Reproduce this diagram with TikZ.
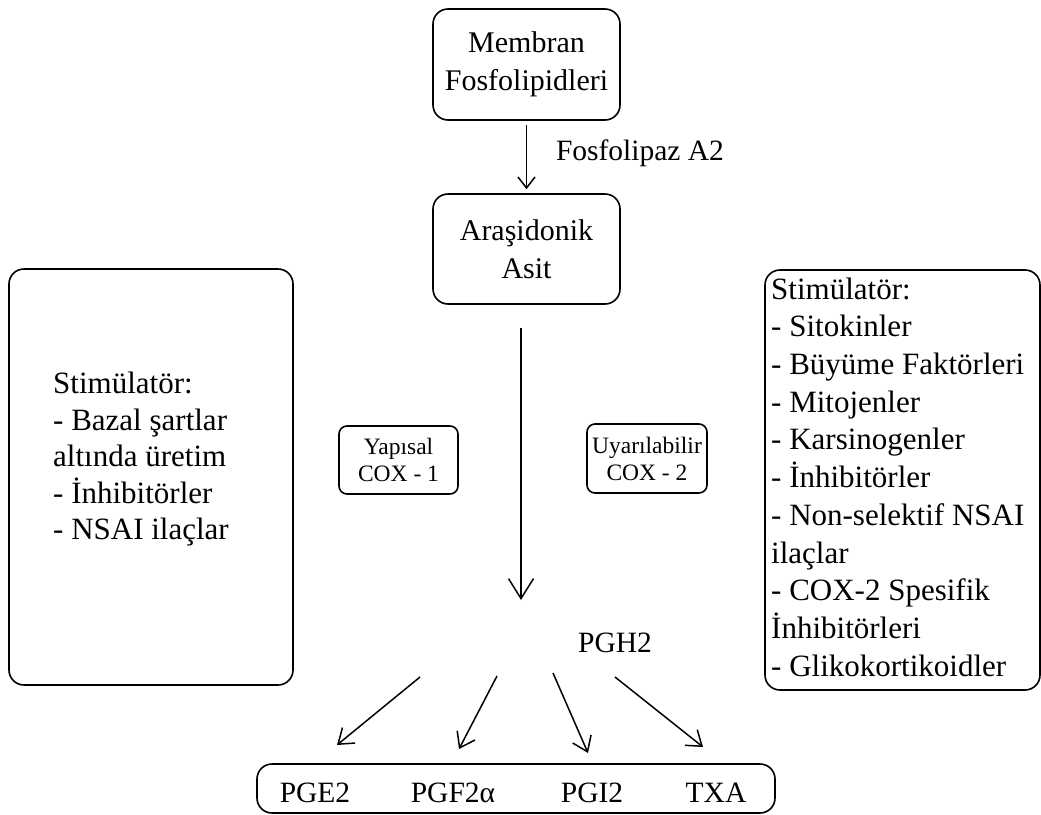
\documentclass[tikz,border=0pt]{standalone}
\usepackage{fontspec}
\setmainfont{Liberation Serif}
\usetikzlibrary{arrows.meta}
\tikzset{
  box/.style={draw, line width=1.6pt, rounded corners=15pt, inner sep=0pt, align=center},
  smallbox/.style={draw, line width=1.6pt, rounded corners=8pt, inner sep=0pt, align=center,
    font=\fontsize{23.5}{27}\selectfont},
  bigfont/.style={font=\fontsize{30}{38}\selectfont},
  listtxt/.style={align=left, inner sep=0pt, font=\fontsize{31}{36.5}\selectfont},
  arr/.style={line width=1.5pt, -{Straight Barb[length=14pt,width=20pt,line width=1.5pt]}},
  lbl/.style={inner sep=0pt, font=\fontsize{29.5}{36}\selectfont}
}
\begin{document}
\begin{tikzpicture}[x=1pt,y=-1pt]
\useasboundingbox (0,0) rectangle (1041,814);

% main chain
\node[box, bigfont, minimum width=187pt, minimum height=111pt] (mem) at (526.5,64.5)
  {Membran\\Fosfolipidleri};
\node[box, bigfont, minimum width=187pt, minimum height=110pt] (ara) at (526.5,249)
  {Araşidonik\\Asit};
\draw[line width=1.5pt, -{Straight Barb[length=11pt,width=17pt,line width=1.5pt]}]
  ([yshift=-4pt]mem.south) -- ([yshift=4pt]ara.north);
\node[lbl] (fla) at (640,153) {Fosfolipaz A2};

\coordinate (ls) at (521,328);
\coordinate (le) at (521,600);
\draw[line width=1.5pt, -{Straight Barb[length=20pt,width=25pt,line width=1.5pt]}] (ls) -- (le);

% side boxes
\node[box, minimum width=284pt, minimum height=416pt] (lbox) at (151,477) {};
\node[listtxt, anchor=west] (ltxt) at (53,459.5)
  {Stimülatör:\\- Bazal şartlar\\altında üretim\\- İnhibitörler\\- NSAI ilaçlar};

\node[box, minimum width=275pt, minimum height=420pt] (rbox) at (902.5,480) {};
\node[listtxt, anchor=west, font=\fontsize{31}{37.7}\selectfont] (rtxt) at (771,477)
  {Stimülatör:\\- Sitokinler\\- Büyüme Faktörleri\\- Mitojenler\\- Karsinogenler\\- İnhibitörler\\- Non-selektif NSAI\\ilaçlar\\- COX-2 Spesifik\\İnhibitörleri\\- Glikokortikoidler};

% COX boxes
\node[smallbox, minimum width=119pt, minimum height=68pt] (cox1) at (398.5,460)
  {Yapısal\\COX - 1};
\node[smallbox, minimum width=120pt, minimum height=69pt] (cox2) at (647,458.5)
  {Uyarılabilir\\COX - 2};

% PGH2 and products
\node[lbl] (pgh) at (615,643) {PGH2};

\node[box, minimum width=518pt, minimum height=49pt] (prod) at (516,788.5) {};
\node[lbl, anchor=base] (pge) at (315,802) {PGE2};
\node[lbl, anchor=base] (pgf) at (453,802) {PGF2α};
\node[lbl, anchor=base] (pgi) at (592,802) {PGI2};
\node[lbl, anchor=base] (txa) at (716,802) {TXA};

\coordinate (s1) at (420,677);
\coordinate (e1) at (337,745);
\coordinate (s2) at (497,676);
\coordinate (e2) at (459,749);
\coordinate (s3) at (553,673);
\coordinate (e3) at (588,753);
\coordinate (s4) at (615,677);
\coordinate (e4) at (703,747);
\draw[arr] (s1) -- (e1);
\draw[arr] (s2) -- (e2);
\draw[arr] (s3) -- (e3);
\draw[arr] (s4) -- (e4);
\end{tikzpicture}
\end{document}
